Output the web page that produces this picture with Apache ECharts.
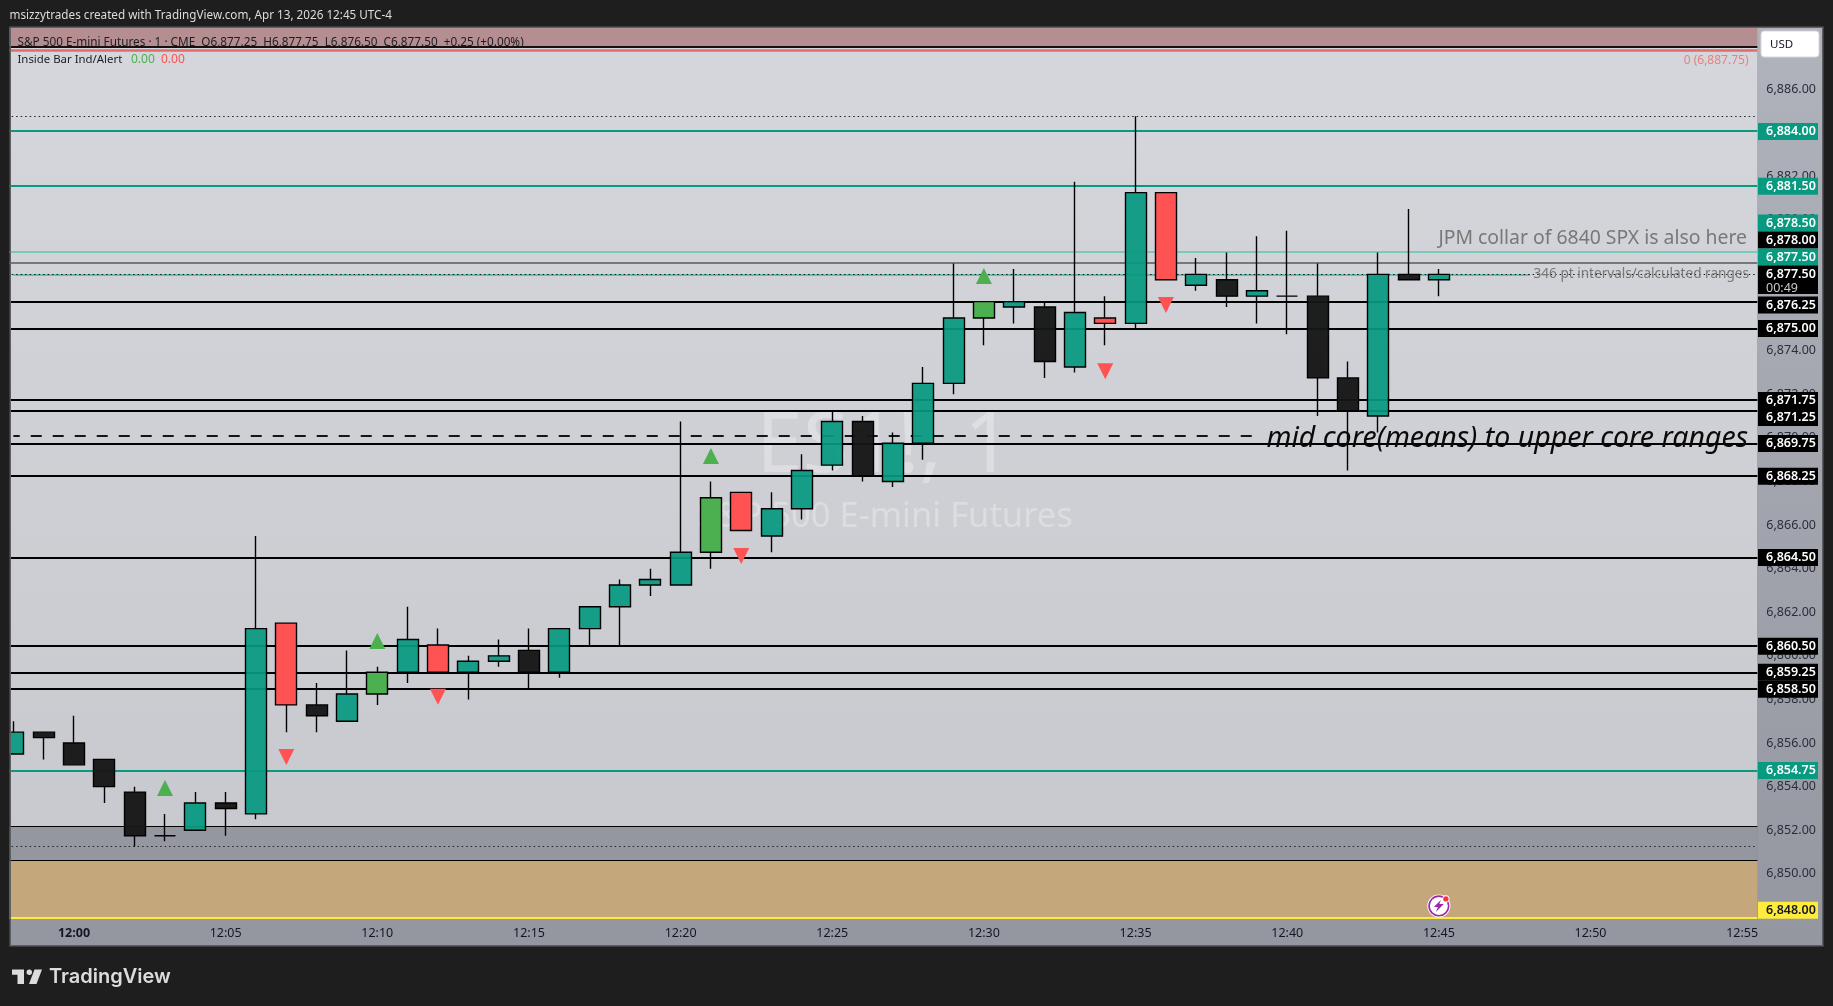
<!DOCTYPE html>
<html><head><meta charset="utf-8">
<style>html,body{margin:0;padding:0;background:#1e1e1e;overflow:hidden}#c{width:1833px;height:1006px}</style>
<script src="https://cdn.jsdelivr.net/npm/echarts@6/dist/echarts.min.js"></script>
</head><body><div id="c"></div>
<script>
// ---- data ----
const times = ['11:58','11:59','12:00','12:01','12:02','12:03','12:04','12:05','12:06','12:07','12:08','12:09','12:10','12:11','12:12','12:13','12:14','12:15','12:16','12:17','12:18','12:19','12:20','12:21','12:22','12:23','12:24','12:25','12:26','12:27','12:28','12:29','12:30','12:31','12:32','12:33','12:34','12:35','12:36','12:37','12:38','12:39','12:40','12:41','12:42','12:43','12:44','12:45','12:46','12:47','12:48','12:49','12:50','12:51','12:52','12:53','12:54','12:55'];
const opens  = [6855.5,6856.5,6856,6855.25,6853.75,6851.75,6852,6853.25,6852.75,6861.5,6857.75,6857,6858.25,6859.25,6860.5,6859.25,6859.75,6860.25,6859.25,6861.25,6862.25,6863.25,6863.25,6864.75,6867.5,6865.5,6866.75,6868.75,6870.75,6868,6869.75,6872.5,6875.5,6876,6876,6873.25,6875.5,6875.25,6881.25,6877,6877.25,6876.5,6876.5,6876.5,6872.75,6871,6877.5,6877.25];
const closes = [6856.5,6856.25,6855,6854,6851.75,6851.75,6853.25,6853,6861.25,6857.75,6857.25,6858.25,6859.25,6860.75,6859.25,6859.75,6860,6859.25,6861.25,6862.25,6863.25,6863.5,6864.75,6867.25,6865.75,6866.75,6868.5,6870.75,6868.25,6869.75,6872.5,6875.5,6876.25,6876.25,6873.5,6875.75,6875.25,6881.25,6877.25,6877.5,6876.5,6876.75,6876.5,6872.75,6871.25,6877.5,6877.25,6877.5];
const lows   = [6855.5,6855.25,6855,6853.25,6851.25,6851.5,6852,6851.75,6852.5,6856.5,6856.5,6857,6857.75,6858.75,6859.25,6858,6859.5,6858.5,6859,6860.5,6860.5,6862.75,6863.25,6864,6865.75,6864.75,6866.25,6868.5,6868,6867.75,6869,6872,6874.25,6875.25,6872.75,6873,6874.25,6875,6877.25,6876.75,6876,6875.25,6874.75,6871,6868.5,6870.25,6877.25,6876.5];
const highs  = [6857,6856.5,6857.25,6855.25,6854,6852.75,6853.75,6853.75,6865.5,6861.5,6858.75,6860.25,6859.5,6862.25,6861.25,6860,6860.75,6861.25,6861.25,6862.25,6863.5,6864,6870.75,6868,6867.5,6867.5,6869.25,6871.25,6871,6870.25,6873.25,6878,6876.25,6877.75,6876.25,6881.75,6876.5,6884.75,6881.25,6878.25,6878.5,6879.25,6879.5,6878,6873.5,6878.5,6880.5,6877.75];
const kinds  = ['t','k','k','k','k','k','t','k','t','r','k','t','g','t','r','t','t','k','t','t','t','t','t','g','r','t','t','t','k','t','t','t','g','t','k','t','r','t','r','t','k','t','k','k','k','t','k','t'];
const kindFill = {t:'rgba(8,153,129,0.93)',k:'rgba(22,22,22,0.96)',r:'#ff5252',g:'#4caf50'};
const upArrowTimes = ['12:03','12:10','12:21','12:30'];
const upArrowPrices = [6853.94,6860.68,6869.17,6877.42];
const downArrowTimes = ['12:07','12:12','12:22','12:34','12:36'];
const downArrowPrices = [6855.36,6858.13,6864.58,6873.06,6876.09];
const blackLevels = [6876.25,6875,6871.75,6871.25,6869.75,6868.25,6864.5,6860.46,6859.22,6858.47];
const tealLevels = [6884.07,6881.55,6854.75];
const paleTealLevel = 6878.54, greyLevel = 6878.02, lastPrice = 6877.5, midCoreLevel = 6870.1;
const highDotted = 6884.75, lowDotted = 6851.25, yellowLevel = 6848, topLevel = 6887.93, redLevel = 6887.8;
const greyBand = [6850.62,6852.18], tanBand = [6848,6850.62];
const yMin = 6847.93, yMax = 6888.8;
const yTicks = [6850,6852,6854,6856,6858,6860,6862,6864,6866,6868,6870,6872,6874,6876,6878,6880,6882,6884,6886];
const badgeTexts =   ['6,884.00','6,881.50','6,878.50','6,878.00','6,877.50','6,877.50','00:49','6,876.25','6,875.00','6,871.75','6,871.25','6,869.75','6,868.25','6,864.50','6,860.50','6,859.25','6,858.50','6,854.75','6,848.00'];
const badgeAnchors = [6884.07,6881.55,6879.87,6879.09,6878.31,6877.53,6876.89,6876.11,6875.03,6871.73,6870.95,6869.76,6868.25,6864.53,6860.45,6859.26,6858.48,6854.76,6848.35];
const badgeKinds =   ['t','t','t','k','t','k','c','k','k','k','k','k','k','k','k','k','k','t','y'];
const badgeFill = {t:'#089981',k:'#000000',c:'#000000',y:'#ffeb3b'};
const badgeInk  = {t:'#ffffff',k:'#ffffff',c:'#c8c8c8',y:'#131722'};

const FONT = '"Noto Sans",sans-serif';
const candleData = opens.map((o,i)=>({
  value:[o,closes[i],lows[i],highs[i]],
  itemStyle:{color:kindFill[kinds[i]],color0:kindFill[kinds[i]],borderColor:'#000',borderColor0:'#000',borderColorDoji:'#000',borderWidth:1.4}
}));
const hLine = (v,color,width,type)=>({yAxis:v,lineStyle:{color,width,type:type||'solid',opacity:1}});
const levelLines = [
  hLine(highDotted,'#222',1.2,[1.5,3]), hLine(lowDotted,'#222',1.2,[1.5,3]),
  hLine(greyBand[0],'#000',1.2), hLine(greyBand[1],'#000',1.2),
  hLine(topLevel,'#1a0f10',2.2), hLine(redLevel,'#e06c6c',2.6),
  hLine(yellowLevel,'#ffeb3b',2),
  ...blackLevels.map(v=>hLine(v,'#000',1.8)),
  ...tealLevels.map(v=>hLine(v,'#089981',1.8)),
  hLine(paleTealLevel,'#7cc9b9',1.8), hLine(greyLevel,'#787878',1.8),
  [{xAxis:'11:58',yAxis:lastPrice,lineStyle:{color:'#62c2ae',width:2,type:'solid',opacity:1}},{xAxis:'12:48',yAxis:lastPrice}],
  [{xAxis:'11:58',yAxis:midCoreLevel,lineStyle:{color:'#000',width:1.8,type:[11,11],dashOffset:4.6,opacity:1}},{xAxis:'12:39',yAxis:midCoreLevel}],
  hLine(lastPrice,'#111',1,[1.5,3])
];
const rectG = (x,y,w,h,fill,z)=>({type:'rect',z,silent:true,shape:{x,y,width:w,height:h},style:{fill}});
const textG = (x,y,text,font,fill,z,align)=>({type:'text',z,silent:true,x,y,style:{text,font,fill,textAlign:align||'left',textVerticalAlign:'middle'}});
const vGrad = (a,b)=>({type:'linear',x:0,y:0,x2:0,y2:1,colorStops:[{offset:0,color:a},{offset:1,color:b}]});
const option = {
  animation:false,
  backgroundColor:'#1e1e1e',
  grid:{left:-1.83,top:28,width:1759.16,height:891,containLabel:false,show:false,outerBoundsMode:'none'},
  xAxis:{type:'category',data:times,boundaryGap:true,
    axisLine:{show:false},axisTick:{show:false},splitLine:{show:false},
    axisLabel:{interval:(i,v)=>parseInt(v.slice(3))%5===0,margin:8,fontFamily:FONT,fontSize:12.5,color:'#131722',hideOverlap:false,
      formatter:v=>v==='12:00'?'{b|12:00}':v,rich:{b:{fontFamily:FONT,fontSize:12.5,fontWeight:'bold',color:'#131722'}}}},
  yAxis:{type:'value',position:'right',min:yMin,max:yMax,
    axisLine:{show:false},axisTick:{show:false},splitLine:{show:false},
    axisLabel:{customValues:yTicks,margin:9,fontFamily:FONT,fontSize:12.5,color:'#2a2e39',align:'left',
      formatter:v=>v.toLocaleString('en-US',{minimumFractionDigits:2,maximumFractionDigits:2})}},
  graphic:{elements:[
    rectG(11,28,1746,891,vGrad('#d6d7dc','#c7c8cd'),-3),
    {type:'rect',z:-3,silent:true,shape:{x:1757,y:28,width:65,height:917},style:{fill:vGrad('#b1b3bc','#94979f')}},
    rectG(11,919,1746,26,'#94979f',-3),
    textG(884,448,'ES1!, 1','84px '+FONT,'rgba(255,255,255,0.3)',-2,'center'),
    textG(885,517,'S&P 500 E-mini Futures','34.5px '+FONT,'rgba(255,255,255,0.3)',-2,'center'),
    // frame and left cover
    rectG(0,0,9.5,1006,'#1e1e1e',60), rectG(9.5,27,1.5,919,'#5e5f63',60),
    rectG(9.5,26.5,1814,1.5,'#5e5f63',60), rectG(1822,27,1.5,919,'#5e5f63',60), rectG(9.5,945,1814,1.5,'#5e5f63',60),
    // texts
    textG(9.5,15.5,'msizzytrades created with TradingView.com, Apr 13, 2026 12:45 UTC-4','11.7px '+FONT,'#dcdcdc',61),
    textG(17.5,43,'S&P 500 E-mini Futures · 1 · CME  O6,877.25  H6,877.75  L6,876.50  C6,877.50  +0.25 (+0.00%)','11.75px '+FONT,'#1c1c22',61),
    textG(17.5,60,'Inside Bar Ind/Alert','11.4px '+FONT,'#1c1c22',61),
    textG(131,60,'0.00','12px '+FONT,'#4caf50',61),
    textG(161,60,'0.00','12px '+FONT,'#ff5252',61),
    textG(1748.5,60.5,'0 (6,887.75)','12px '+FONT,'#e88080',61,'right'),
    textG(1747,238,'JPM collar of 6840 SPX is also here','19.4px '+FONT,'#787878',61,'right'),
    textG(1749,274.5,'346 pt intervals/calculated ranges','13.6px '+FONT,'#777777',61,'right'),
    textG(1748,439,'mid core(means) to upper core ranges','italic 28.5px '+FONT,'#0a0a0a',61,'right'),
    // USD button
    {type:'rect',z:61,silent:true,shape:{x:1761,y:31,width:58,height:26,r:3},style:{fill:'#fff',stroke:'#d6d7dc',lineWidth:1}},
    textG(1770,45,'USD','11.5px '+FONT,'#131722',62),
    // TradingView logo
    {type:'polygon',z:61,silent:true,shape:{points:[[12,969.5],[24,969.5],[24,984],[17.5,984],[17.5,974.7],[12,974.7]]},style:{fill:'#dcdcdc'}},
    {type:'circle',z:61,silent:true,shape:{cx:29.3,cy:972.2,r:2.7},style:{fill:'#dcdcdc'}},
    {type:'polygon',z:61,silent:true,shape:{points:[[34.5,969.5],[42,969.5],[36.5,984],[29,984]]},style:{fill:'#dcdcdc'}},
    textG(49,977,'TradingView','600 20px Inter,'+FONT,'#dcdcdc',61)
  ]},
  series:[
    {type:'line',name:'zones',data:[],z:1,silent:true,
      markArea:{silent:true,z:1,data:[
        [{yAxis:greyBand[0],itemStyle:{color:'rgba(113,118,130,0.6)'}},{yAxis:greyBand[1]}],
        [{yAxis:tanBand[0],itemStyle:{color:'#c4a77b'}},{yAxis:tanBand[1]}],
        [{yAxis:topLevel,itemStyle:{color:'#b58e92'}},{yAxis:yMax}]
      ]},
      markLine:{silent:true,z:1,symbol:['none','none'],label:{show:false},animation:false,data:levelLines}
    },
    {type:'candlestick',name:'ES1!',z:3,barWidth:21.5,data:candleData.concat(times.slice(candleData.length).map(()=>'-')),silent:true},
    {type:'scatter',name:'inside up',z:4,symbol:'triangle',symbolSize:16,silent:true,itemStyle:{color:'#4caf50',opacity:1},
      data:upArrowTimes.map((t,i)=>[t,upArrowPrices[i]])},
    {type:'scatter',name:'inside down',z:4,symbol:'triangle',symbolSize:16,symbolRotate:180,silent:true,itemStyle:{color:'#ff5252',opacity:1},
      data:downArrowTimes.map((t,i)=>[t,downArrowPrices[i]])},
    {type:'custom',name:'event',z:5,clip:false,silent:true,data:[['12:45',6848.53]],
      renderItem:(p,api)=>{const c=api.coord([api.value(0),api.value(1)]);
        return {type:'group',x:c[0],y:c[1],children:[
          {type:'circle',shape:{cx:0,cy:0,r:11.5},style:{fill:'#fff'}},
          {type:'circle',shape:{cx:0,cy:0,r:9.8},style:{fill:'#fff',stroke:'#9c27b0',lineWidth:1.6}},
          {type:'polygon',shape:{points:[[2,-6],[-5,1],[-1,1],[-3,6],[5,-2],[0.5,-2]]},style:{fill:'#9c27b0'}},
          {type:'circle',shape:{cx:7,cy:-7,r:3.6},style:{fill:'#fff'}},
          {type:'circle',shape:{cx:7,cy:-7,r:2.7},style:{fill:'#f23645'}}
        ]};}},
    {type:'custom',name:'badges',z:30,clip:false,silent:true,
      data:badgeAnchors.map((a,i)=>['12:55',a,i]),
      renderItem:(p,api)=>{const i=api.value(2),c=api.coord(['12:55',api.value(1)]),k=badgeKinds[i];
        return {type:'group',x:1758,y:c[1],children:[
          {type:'rect',shape:{x:0,y:-8.2,width:60,height:k==='c'?14.5:17},style:{fill:badgeFill[k]}},
          {type:'text',x:8,y:0.6,style:{text:badgeTexts[i],font:(k==='c'?'':'600 ')+'12.5px '+FONT,fill:badgeInk[k],textVerticalAlign:'middle'}}
        ]};}}
  ]
};
const chart = echarts.init(document.getElementById('c'),null,{width:1833,height:1006,renderer:'canvas'});
chart.setOption(option);
</script></body></html>
